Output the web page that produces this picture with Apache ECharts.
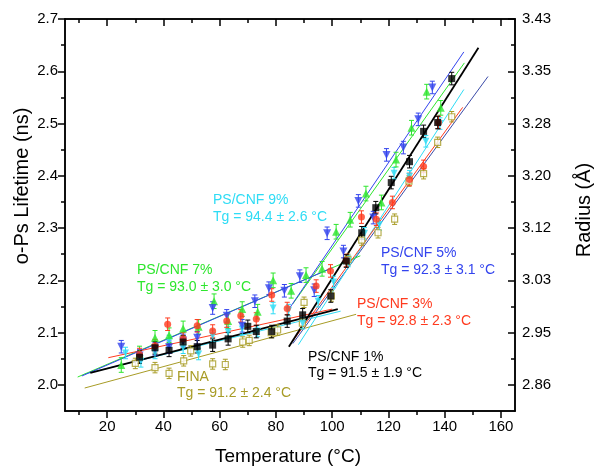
<!DOCTYPE html>
<html>
<head>
<meta charset="utf-8">
<script src="https://cdn.jsdelivr.net/npm/echarts@6/dist/echarts.min.js"></script>
<style>
html,body{margin:0;padding:0;background:#fff;}
#chart{width:598px;height:467px;}
</style>
</head>
<body>
<div id="chart"></div>
<script>
// ---- data: [temperature, o-Ps lifetime] ----
var ps1 = [[31.5,2.053],[37,2.071],[42,2.066],[47,2.082],[52,2.073],[57.5,2.076],[63,2.088],[70,2.112],[73,2.102],[78.5,2.102],[84,2.122],[89.5,2.134],[99.5,2.170],[105,2.237],[110.5,2.291],[115.5,2.339],[121,2.387],[127.5,2.427],[132.5,2.485],[137.5,2.502],[142.5,2.586]];
var ps3 = [[31.5,2.058],[37,2.075],[41.5,2.116],[47,2.088],[52,2.113],[57.5,2.103],[62.5,2.122],[67.5,2.132],[73,2.126],[78.5,2.172],[84,2.146],[94.3,2.189],[99.4,2.218],[105,2.238],[110.4,2.321],[115.7,2.317],[121.4,2.349],[127.5,2.393],[132.5,2.418],[137.8,2.502]];
var ps5 = [[25,2.073],[31.5,2.056],[37,2.069],[42,2.072],[47,2.085],[52,2.09],[57.5,2.147],[62.5,2.132],[68,2.113],[72.5,2.16],[77.5,2.185],[83,2.18],[88.5,2.208],[93.6,2.181],[98.2,2.29],[104,2.255],[109.3,2.352],[114.6,2.32],[119.3,2.44],[125.3,2.454],[130.6,2.508],[135.6,2.569]];
var ps7 = [[25,2.038],[31.5,2.06],[37,2.09],[42,2.095],[47,2.108],[52.5,2.111],[58,2.16],[63,2.122],[68,2.145],[73.5,2.14],[79,2.2],[85.4,2.18],[90.7,2.21],[96.4,2.222],[101.4,2.293],[106.4,2.316],[112,2.366],[117.5,2.349],[122.7,2.431],[128.2,2.492],[133.6,2.561],[138.6,2.53]];
var ps9 = [[26.5,2.061],[32,2.045],[37,2.061],[42,2.084],[47,2.071],[52.5,2.059],[57.5,2.094],[63,2.101],[68,2.107],[73.5,2.103],[79,2.147],[84.5,2.143],[89.5,2.118],[95,2.16],[100.5,2.197],[105.7,2.237],[111.5,2.29],[116.8,2.307],[122,2.405],[127.5,2.399],[133.3,2.466],[138.3,2.5]];
var fina = [[30,2.041],[37,2.033],[42,2.022],[47.2,2.046],[49.7,2.065],[57.5,2.04],[62,2.039],[68.2,2.082],[70.5,2.085],[78.3,2.1],[80.6,2.105],[89.4,2.118],[90,2.158],[99.7,2.17],[105.6,2.24],[110.5,2.277],[116.3,2.291],[122.2,2.317],[127.3,2.39],[132.5,2.404],[137.5,2.464],[142.5,2.513]];
// half error bar (ns) for each set: 1%,3%,5%,7%,9%,FINA
var errHalf = [0.012, 0.012, 0.012, 0.014, 0.011, 0.010];

// fitted lines (end points), glassy / rubbery
var fit1Low = [[14,2.023],[102,2.145]],   fit1High = [[84.6,2.073],[152,2.645]];
var fit3Low = [[20.4,2.052],[100,2.145]], fit3High = [[86,2.084],[146.4,2.531]];
var fit5Low = [[11,2.017],[100,2.224]],   fit5High = [[85,2.148],[146.8,2.637]];
var fit7Low = [[9.5,2.015],[110,2.247]],  fit7High = [[86,2.155],[147,2.616]];
var fit9Low = [[12,2.021],[103,2.141]],   fit9High = [[88,2.077],[146.8,2.565]];
var finaLow = [[12,1.994],[108.5,2.135]], finaHigh = [[86,2.079],[155.4,2.59]];

// axis ticks
var xTicks = [20,40,60,80,100,120,140,160];
var xMinor = [10,30,50,70,90,110,130,150];
var yTicks = [2.0,2.1,2.2,2.3,2.4,2.5,2.6,2.7];
var yMinor = [2.05,2.15,2.25,2.35,2.45,2.55,2.65];
var radiusLabels = ['2.86','2.95','3.03','3.12','3.20','3.28','3.35','3.43'];

var colors = ['#000000','#ff3b1f','#3344ee','#2ee62e','#2edcf5','#a89c26','#3a4aa8']; // 黑 红 蓝 绿 青 橄榄 深蓝

var myChart = echarts.init(document.getElementById('chart'));

function withErr(arr, e){
    return arr.map(function(p){ return [p[0], p[1], e]; });
}
function errBar(color){
    return function(params, api){
        var x = api.value(0), y = api.value(1), e = api.value(2);
        var p1 = api.coord([x, y + e]), p2 = api.coord([x, y - e]);
        var hw = 2.5;
        var st = {stroke: color, lineWidth: 1};
        return {type: 'group', children: [
            {type: 'line', shape: {x1: p1[0], y1: p1[1], x2: p2[0], y2: p2[1]}, style: st},
            {type: 'line', shape: {x1: p1[0]-hw, y1: p1[1], x2: p1[0]+hw, y2: p1[1]}, style: st},
            {type: 'line', shape: {x1: p2[0]-hw, y1: p2[1], x2: p2[0]+hw, y2: p2[1]}, style: st}
        ]};
    };
}
function fitLine(data, color, w){
    return {type: 'line', data: data, symbol: 'none', silent: true,
        lineStyle: {color: color, width: w || 1}, z: 1};
}
function errSeries(data, color){
    return {type: 'custom', data: data, renderItem: errBar(color), encode: {x: 0, y: 1}, z: 2};
}
function dots(data, color, symbol, size, rot, hollow){
    return {type: 'scatter', data: data, symbol: symbol, symbolSize: size, symbolRotate: rot || 0,
        itemStyle: hollow ? {color: '#fff', borderColor: color, borderWidth: 1.2} : {color: color}, z: 3};
}

var axisLineStyle = {color: '#000', width: 1.5};
var labelStyle = {color: '#000', fontSize: 15, fontFamily: 'Arial'};

function xAx(pos, ticks, len, inside, labels){
    return {type: 'value', min: 5, max: 165, position: pos,
        axisLine: {show: true, onZero: false, lineStyle: axisLineStyle},
        axisTick: {show: true, customValues: ticks, length: len, inside: inside, lineStyle: axisLineStyle},
        axisLabel: labels ? Object.assign({customValues: ticks, margin: 8}, labelStyle) : {show: false},
        splitLine: {show: false}};
}
function yAx(pos, ticks, len, inside, labels, fmt){
    return {type: 'value', min: 1.95, max: 2.7, position: pos,
        axisLine: {show: true, onZero: false, lineStyle: axisLineStyle},
        axisTick: {show: true, customValues: ticks, length: len, inside: inside, lineStyle: axisLineStyle},
        axisLabel: labels ? Object.assign({customValues: ticks, margin: 7, formatter: fmt}, labelStyle) : {show: false},
        splitLine: {show: false}};
}

function txt(x, y, s, color){
    return {type: 'text', x: x, y: y, silent: true,
        style: {text: s, fill: color, font: '14px Arial', verticalAlign: 'middle'}};
}

option = {
    animation: false,
    backgroundColor: '#fff',
    grid: {left: 65, right: 83, top: 19, bottom: 56},
    xAxis: [
        xAx('bottom', xTicks, 7, false, true),
        xAx('bottom', xMinor, 4, false, false),
        xAx('top', xTicks, 7, true, false),
        xAx('top', xMinor, 4, true, false)
    ],
    yAxis: [
        yAx('left', yTicks, 7, false, true, function(v){ return v.toFixed(1); }),
        yAx('left', yMinor, 4, false, false),
        yAx('right', yTicks, 7, true, true, function(v){ return radiusLabels[Math.round((v - 2.0) * 10)]; }),
        yAx('right', yMinor, 4, true, false)
    ],
    graphic: [
        {type: 'text', x: 22, y: 186, rotation: Math.PI / 2, silent: true,
            style: {text: 'o-Ps Lifetime (ns)', fill: '#000', font: '20px Arial', align: 'center', verticalAlign: 'middle'}},
        {type: 'text', x: 584, y: 210, rotation: Math.PI / 2, silent: true,
            style: {text: 'Radius (Å)', fill: '#000', font: '20px Arial', align: 'center', verticalAlign: 'middle'}},
        {type: 'text', x: 288, y: 457, silent: true,
            style: {text: 'Temperature (°C)', fill: '#000', font: '19px Arial', align: 'center', verticalAlign: 'middle'}},
        txt(213, 200, 'PS/CNF 9%', colors[4]),
        txt(213, 217, 'Tg = 94.4 ± 2.6 °C', colors[4]),
        txt(137, 270, 'PS/CNF 7%', colors[3]),
        txt(137, 287, 'Tg = 93.0 ± 3.0 °C', colors[3]),
        txt(381, 253, 'PS/CNF 5%', colors[2]),
        txt(381, 270, 'Tg = 92.3 ± 3.1 °C', colors[2]),
        txt(357, 304, 'PS/CNF 3%', colors[1]),
        txt(357, 321, 'Tg = 92.8 ± 2.3 °C', colors[1]),
        txt(308, 357, 'PS/CNF 1%', colors[0]),
        txt(308, 373, 'Tg = 91.5 ± 1.9 °C', colors[0]),
        txt(177, 377, 'FINA', colors[5]),
        txt(177, 393, 'Tg = 91.2 ± 2.4 °C', colors[5])
    ],
    series: [
        fitLine(finaLow, colors[5]), fitLine(finaHigh, colors[6]),
        fitLine(fit9Low, colors[4]), fitLine(fit9High, colors[4]),
        fitLine(fit7Low, colors[3]), fitLine(fit7High, colors[3]),
        fitLine(fit5Low, colors[2]), fitLine(fit5High, colors[2]),
        fitLine(fit3Low, colors[1]), fitLine(fit3High, colors[1]),
        fitLine(fit1Low, colors[0], 1.8), fitLine(fit1High, colors[0], 1.8),

        errSeries(withErr(fina, errHalf[5]), colors[5]),
        errSeries(withErr(ps9, errHalf[4]), colors[4]),
        errSeries(withErr(ps7, errHalf[3]), colors[3]),
        errSeries(withErr(ps5, errHalf[2]), colors[2]),
        errSeries(withErr(ps3, errHalf[1]), colors[1]),
        errSeries(withErr(ps1, errHalf[0]), colors[0]),

        dots(fina, colors[5], 'rect', 6, 0, true),
        dots(ps9, colors[4], 'triangle', 7, 180),
        dots(ps7, colors[3], 'triangle', 8),
        dots(ps5, colors[2], 'triangle', 8, 180),
        dots(ps3, colors[1], 'circle', 7),
        dots(ps1, colors[0], 'rect', 7)
    ]
};
myChart.setOption(option);
</script>
</body>
</html>
